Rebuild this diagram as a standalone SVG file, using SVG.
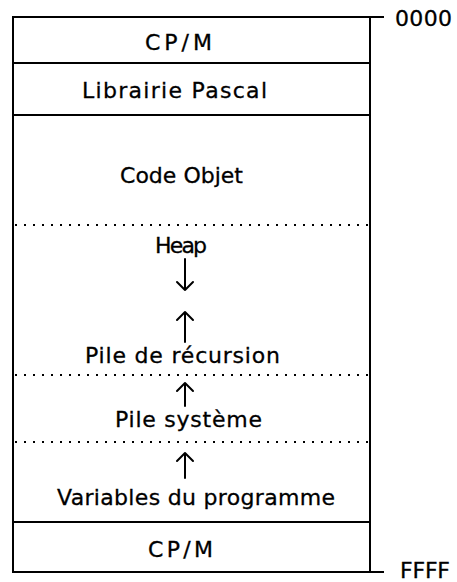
<svg xmlns="http://www.w3.org/2000/svg" width="457" height="582" viewBox="0 0 457 582">
<style>
.t{font-family:"DejaVu Sans","Liberation Sans",sans-serif;font-size:22px;fill:#000;stroke:#000;stroke-width:0.3}
.s{stroke:#000;stroke-width:2;fill:none}
.d{stroke:#000;stroke-width:2;stroke-dasharray:2 7;fill:none}
.a{stroke:#000;stroke-width:2;fill:none;stroke-linecap:round;stroke-linejoin:round}
</style>
<rect width="457" height="582" fill="#fff"/>
<g id="frame">
<rect x="13" y="17" width="357" height="555" class="s"/>
<line x1="370" y1="17" x2="384" y2="17" class="s"/>
<line x1="370" y1="572" x2="384" y2="572" class="s"/>
<text x="395" y="26" class="t" textLength="57" lengthAdjust="spacing">0000</text>
<text x="400" y="578" class="t" textLength="50" lengthAdjust="spacing">FFFF</text>
</g>
<g id="cpm-top">
<line x1="13" y1="63" x2="370" y2="63" class="s"/>
<text x="145" y="50" class="t" textLength="67" lengthAdjust="spacing">CP/M</text>
</g>
<g id="librairie">
<line x1="13" y1="115" x2="370" y2="115" class="s"/>
<text x="82" y="98" class="t" textLength="185" lengthAdjust="spacing">Librairie Pascal</text>
</g>
<g id="code">
<text x="120" y="183" class="t" textLength="123" lengthAdjust="spacing">Code Objet</text>
</g>
<g id="dividers">
<line x1="15" y1="225" x2="370" y2="225" class="d"/>
<line x1="15" y1="375" x2="370" y2="375" class="d"/>
<line x1="15" y1="442" x2="370" y2="442" class="d"/>
</g>
<g id="heap">
<text x="155" y="253" class="t" textLength="52" lengthAdjust="spacing">Heap</text>
</g>
<g id="recursion">
<text x="85" y="363" class="t" textLength="195" lengthAdjust="spacing">Pile de récursion</text>
</g>
<g id="systeme">
<text x="115" y="427" class="t" textLength="147" lengthAdjust="spacing">Pile système</text>
</g>
<g id="variables">
<text x="57" y="505" class="t" textLength="278" lengthAdjust="spacing">Variables du programme</text>
</g>
<g id="cpm-bottom">
<line x1="13" y1="522" x2="370" y2="522" class="s"/>
<text x="148" y="557" class="t" textLength="65" lengthAdjust="spacing">CP/M</text>
</g>
<g id="connectors">
<path d="M185 259V290M177 282L185 290L193 282" class="a"/>
<path d="M185 342V312M177 320L185 312L193 320" class="a"/>
<path d="M185 406V383M177 391L185 383L193 391" class="a"/>
<path d="M185 478V453M177 461L185 453L193 461" class="a"/>
</g>
</svg>
